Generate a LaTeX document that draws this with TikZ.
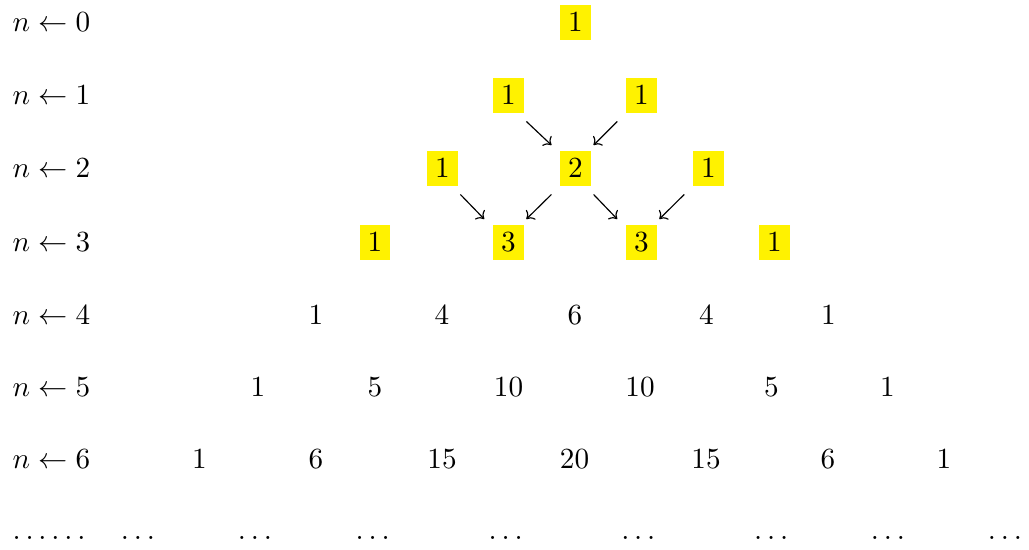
\documentclass[tikz,border=0pt]{standalone}
\usetikzlibrary{arrows.meta}
\begin{document}
\begin{tikzpicture}[x=0.34247pt,y=-0.34247pt,
  num/.style={inner sep=0pt, anchor=base},
  hl/.style={fill=yellow, inner sep=2.8pt, anchor=base},
  lbl/.style={inner sep=0pt, anchor=base west},
  link/.style={-{To[length=2.3pt,width=4.6pt]}, line width=0.4pt}]
\useasboundingbox (0,0) rectangle (1029,550);

% row labels
\node[lbl] (l0) at (12,31.7)  {$n \leftarrow 0$};
\node[lbl] (l1) at (12,104.7) {$n \leftarrow 1$};
\node[lbl] (l2) at (12,177.7) {$n \leftarrow 2$};
\node[lbl] (l3) at (12,251.7) {$n \leftarrow 3$};
\node[lbl] (l4) at (12,324.3) {$n \leftarrow 4$};
\node[lbl] (l5) at (12,396.7) {$n \leftarrow 5$};
\node[lbl] (l6) at (12,468.3) {$n \leftarrow 6$};
\node[lbl] (l7) at (12,539.5) {$\ldots\ldots$};

% highlighted rows 0--3
\node[hl] (a00) at (575.5,31.7) {$1$};

\node[hl] (a10) at (508.3,104.7) {$1$};
\node[hl] (a11) at (641.3,104.7) {$1$};

\node[hl] (a20) at (442.3,177.7) {$1$};
\node[hl] (a21) at (575.5,177.7) {$2$};
\node[hl] (a22) at (708.3,177.7) {$1$};

\node[hl] (a30) at (375,251.7)   {$1$};
\node[hl] (a31) at (508.3,251.7) {$3$};
\node[hl] (a32) at (641.3,251.7) {$3$};
\node[hl] (a33) at (774.3,251.7) {$1$};

% plain rows 4--6
\node[num] (a40) at (316,324.3)   {$1$};
\node[num] (a41) at (442,324.3)   {$4$};
\node[num] (a42) at (575,324.3)   {$6$};
\node[num] (a43) at (706.5,324.3) {$4$};
\node[num] (a44) at (828.5,324.3) {$1$};

\node[num] (a50) at (258,396.7)   {$1$};
\node[num] (a51) at (375,396.7)   {$5$};
\node[num] (a52) at (508.5,396.7) {$10$};
\node[num] (a53) at (640,396.7)   {$10$};
\node[num] (a54) at (771.5,396.7) {$5$};
\node[num] (a55) at (887.5,396.7) {$1$};

\node[num] (a60) at (199.5,468.3) {$1$};
\node[num] (a61) at (316,468.3)   {$6$};
\node[num] (a62) at (442,468.3)   {$15$};
\node[num] (a63) at (574.5,468.3) {$20$};
\node[num] (a64) at (706,468.3)   {$15$};
\node[num] (a65) at (828,468.3)   {$6$};
\node[num] (a66) at (944,468.3)   {$1$};

% continuation row
\node[num] (d0) at (138,539.5)   {$\ldots$};
\node[num] (d1) at (255,539.5)   {$\ldots$};
\node[num] (d2) at (372.7,539.5) {$\ldots$};
\node[num] (d3) at (505.7,539.5) {$\ldots$};
\node[num] (d4) at (638.3,539.5) {$\ldots$};
\node[num] (d5) at (771.2,539.5) {$\ldots$};
\node[num] (d6) at (888,539.5)   {$\ldots$};
\node[num] (d7) at (1005,539.5)  {$\ldots$};

% additions feeding rows 2 and 3
\draw[link] ([shift={(2,8)}]a10.south east)  -- ([shift={(-8,-5)}]a21.north west);
\draw[link] ([shift={(-8,8)}]a11.south west) -- ([shift={(2,-5)}]a21.north east);
\draw[link] ([shift={(2,8)}]a20.south east)  -- ([shift={(-8,-5)}]a31.north west);
\draw[link] ([shift={(-8,8)}]a21.south west) -- ([shift={(2,-5)}]a31.north east);
\draw[link] ([shift={(2,8)}]a21.south east)  -- ([shift={(-8,-5)}]a32.north west);
\draw[link] ([shift={(-8,8)}]a22.south west) -- ([shift={(2,-5)}]a32.north east);
\end{tikzpicture}
\end{document}
